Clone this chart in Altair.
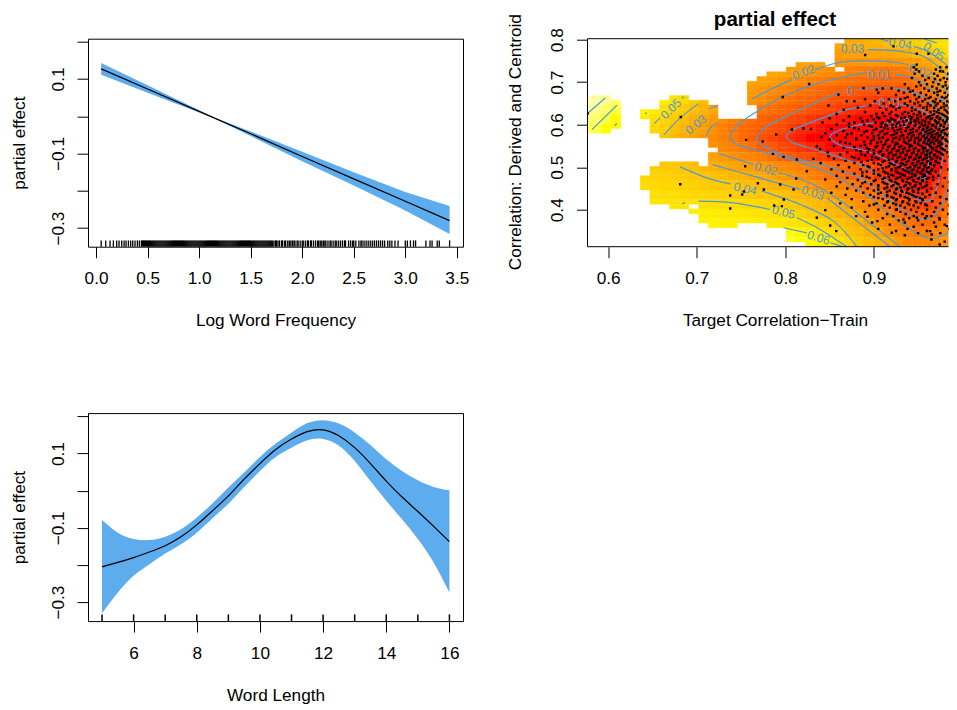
import altair as alt
import pandas as pd

FONT = "Liberation Sans"
BAND = "#5CACEE"
CONT = "#4A9BD8"

# ---------- panel 1 ----------
freq_x = [0.05, 0.5, 1.0, 1.15, 1.5, 2.0, 2.5, 3.0, 3.43]
freq_fit = [0.127, 0.073, 0.013, -0.005, -0.047, -0.108, -0.168, -0.228, -0.280]
freq_hi = [0.143, 0.083, 0.016, -0.004, -0.041, -0.095, -0.150, -0.203, -0.241]
freq_lo = [0.111, 0.063, 0.010, -0.006, -0.053, -0.121, -0.186, -0.253, -0.316]
freq_rug = [.05,.094,.136,.168,.2,.223,.249,.272,.291,.314,.336,.356,.378,.401,.42,.44,
 .45,.46,.47,.48,.49,.5,.51,.52,.53,.54,.55,.56,.57,.58,.59,.6,.61,.62,.63,.64,.65,.66,.67,.68,.69,
 .7,.71,.72,.73,.74,.75,.76,.77,.78,.79,.8,.81,.82,.83,.84,.85,.86,.87,.88,.89,.9,.91,.92,.93,.94,.95,.96,.97,.98,.99,
 1.0,1.01,1.02,1.03,1.04,1.05,1.06,1.07,1.08,1.09,1.1,1.11,1.12,1.13,1.14,1.15,1.16,1.17,1.18,1.19,
 1.2,1.21,1.22,1.23,1.24,1.25,1.26,1.27,1.28,1.29,1.3,1.31,1.32,1.33,1.34,1.35,1.36,1.37,1.38,1.39,
 1.4,1.41,1.42,1.43,1.44,1.45,1.46,1.47,1.48,1.49,1.5,1.51,1.52,1.53,1.54,1.55,1.56,1.57,1.58,1.59,
 1.6,1.61,1.62,1.63,1.64,1.65,1.66,1.67,1.68,1.69,1.70,
 1.71,1.725,1.74,1.75,1.765,1.78,1.8,1.81,1.83,1.84,1.86,1.875,1.89,1.905,1.92,1.93,1.95,1.96,1.98,2.0,2.01,2.03,2.05,2.06,2.08,2.09,
 2.11,2.13,2.15,2.16,2.175,2.19,2.205,2.22,2.23,2.25,2.27,2.28,2.3,2.32,2.33,2.35,2.37,2.39,2.41,2.42,2.45,2.47,2.49,2.5,2.52,2.55,2.57,2.58,
 2.6,2.62,2.64,2.66,2.68,2.7,2.72,2.74,2.76,2.78,2.8,2.83,2.85,2.87,2.9,2.93,3.0,3.02,3.05,3.08,3.1,3.2,3.24,3.26,3.31,3.33,3.43]

# ---------- panel 3 ----------
len_x = [5,5.5,6,6.5,7,7.5,8,8.5,9,9.5,10,10.5,11,11.5,12,12.5,13,13.5,14,14.5,15,15.5,16]
len_fit = [-.205,-.193,-.18,-.165,-.148,-.124,-.092,-.054,-.014,.031,.073,.111,.139,.159,.164,.148,.116,.073,.026,-.017,-.056,-.096,-.137]
len_hi = [-.079,-.113,-.13,-.133,-.124,-.104,-.072,-.034,.009,.049,.091,.127,.157,.182,.19,.181,.157,.123,.085,.053,.028,.01,.001]
len_lo = [-.33,-.274,-.229,-.198,-.169,-.144,-.113,-.074,-.035,.01,.053,.091,.116,.136,.139,.121,.08,.026,-.027,-.077,-.13,-.193,-.274]
len_rug = [5,6,7,8,9,10,11,12,13,14,15,16]

# ---------- panel 2: surface cells (thousandths), row -> (first column, values) ----------
GRID_X0, GRID_DX = 0.5702, 0.01099
GRID_Y0, GRID_DY = 0.8023, 0.01112
surface = {
 0: [(26,[28,29,30,31,33,36,39,41,44,47,50,53,56])],
 1: [(26,[24,25,25,26,27,28,30,31,35,40,44,49,53])],
 2: [(22,[26,25,24,22,21,20,20,20,20,20,21,22,24,27,31,37,43])],
 3: [(19,[27,26,24,23,21,19,17,15,13,12,10,9,9,10,12,17,21,25,29,34])],
 4: [(17,[27,25,23,21,19,16,14,12,10,9,8,6,5,4,3,4,5,9,12,17,22,29])],
 5: [(17,[23,21,18,15,12,9,7,5,3,1,0,-1,-2,-3,-3,-2,0,3,6,12,20,25])],
 6: [(0,[86,82,79,73]),(8,[57,53,48,42,37,33]),
     (17,[20,17,12,9,7,5,3,1,-1,-3,-4,-6,-7,-8,-9,-8,-6,-3,0,5,12,20])],
 7: [(0,[82,78,73,68]),(6,[60,56,52,47,43,38,33,28]),
     (18,[10,7,4,2,0,-2,-4,-6,-8,-10,-11,-12,-13,-13,-13,-12,-11,-7,-1,5,12])],
 8: [(0,[76,73,69,64]),(6,[57,52,47,42,37,31,27,22,17,12,9,6,3,1,-1,-4,-6,-9,-11,-12,-13,-14,-15,-16,-16,-17,-17,-17,-17,-14,-8,0,9])],
 9: [(0,[71,69,65,61]),(7,[48,44,38,33,29,24,18,13,9,6,3,1,-2,-4,-8,-11,-12,-14,-15,-17,-19,-21,-22,-23,-23,-23,-23,-21,-17,-12,-4,6])],
 10: [(8,[40,35,30,26,21,17,13,10,6,2,-2,-5,-8,-11,-13,-15,-17,-20,-22,-23,-24,-25,-26,-26,-26,-25,-24,-20,-16,-8,3])],
 11: [(13,[19,15,13,10,7,1,-1,-4,-6,-9,-11,-13,-15,-17,-19,-20,-22,-23,-24,-25,-25,-24,-21,-16,-8,2])],
 12: [(13,[25,22,19,17,15,12,8,2,0,-2,-4,-7,-9,-11,-13,-15,-17,-19,-20,-22,-23,-24,-22,-17,-10,1])],
 13: [(7,[43,42,41,39,37,34,31,29,27,25,23,21,19,17,15,13,11,9,6,4,2,-1,-4,-7,-11,-16,-18,-20,-20,-16,-9,2])],
 14: [(6,[47,46,45,44,43,41,39,38,36,34,32,30,28,26,23,20,17,14,10,8,5,2,1,-3,-10,-13,-15,-16,-17,-19,-14,-5,6])],
 15: [(6,[49,48,47,46,45,44,43,42,41,40,38,37,35,33,31,29,26,22,18,15,13,11,7,2,-2,-7,-11,-13,-14,-14,-9,-3,9])],
 16: [(7,[51,50,50,49,48,47,46,45,44,43,42,41,40,38,36,34,32,29,25,20,17,14,10,5,-3,-6,-9,-11,-10,-6,0,13])],
 17: [(7,[55,54,54,53,53,52,51,51,50,49,48,47,46,44,42,40,37,35,32,28,23,18,14,11,7,-1,-3,-6,-7,-3,3,16])],
 18: [(11,[58,57,57,56,55,55,54,53,52,51,48,46,43,39,36,33,30,24,18,15,11,6,0,-1,-1,1,8,19])],
 19: [(12,[60,60,59,58,58,58,57,56,55,54,52,50,46,43,39,35,31,25,19,15,12,9,6,6,8,13,24])],
 20: [(21,[63,61,58,54,49,45,39,36,31,26,18,15,13,10,10,12,17,27])],
 21: [(21,[67,65,63,60,57,52,47,40,36,32,28,21,17,15,15,17,21,31])],
}
# filled column spans of each fine row of the surface
spans = [
 [(27,38)],[(26,38)],[(26,38)],[(26,38)],[(26,38)],[(22,24),(26,38)],
 [(21,25),(27,38)],[(19,38)],[(18,38)],[(17,38)],[(17,38)],[(17,38)],
 [(0,2),(9,10),(17,38)],[(0,3),(8,12),(17,38)],[(0,3),(8,13),(18,38)],[(0,3),(6,13),(18,38)],
 [(0,3),(6,13),(18,38)],[(0,3),(7,38)],[(0,3),(7,38)],[(0,2),(7,38)],
 [(8,38)],[(13,38)],[(13,38)],[(14,38)],[(13,38)],[(13,38)],[(8,11),(13,38)],[(7,38)],
 [(7,38)],[(6,38)],[(6,38)],[(6,38)],[(7,38)],[(7,38)],[(7,38)],[(9,10),(12,38)],
 [(11,38)],[(12,38)],[(12,38)],[(13,15),(19,38)],[(21,38)],[(21,38)],[(21,38)],[(23,38)],
]

contours = [
 [(.8996,.6042),(.877,.5964),(.8582,.5847),(.8507,.5729),(.8544,.5612),(.8657,.5494),(.8883,.54),(.9071,.5259),(.9297,.5024),(.9485,.4789),(.9579,.475),(.9617,.5103),(.9598,.5651),(.9542,.5886),(.941,.6058)],
 [(.8921,.6449),(.8695,.6356),(.8318,.6081),(.8093,.5886),(.8017,.5729),(.8093,.5572),(.8394,.5377),(.8883,.5024),(.9297,.4476),(.956,.4202),(.9673,.4319),(.9749,.4868),(.9786,.5729),(.9598,.6277),(.9297,.6473)],
 [(.8638,.6747),(.8507,.6669),(.8093,.6277),(.7791,.5964),(.7679,.5651),(.7791,.5455),(.8017,.5259),(.8469,.5024),(.8883,.4711),(.9259,.4085),(.9485,.381),(.9673,.385),(.9805,.4319),(.9899,.5103),(.9861,.5886),(.9598,.659),(.9297,.6841),(.8996,.6865),(.8827,.6841)],
 [(.8921,.7217),(.8695,.7139),(.8318,.6943),(.798,.6669),(.7716,.6356),(.749,.6042),(.7378,.5729),(.7453,.5533),(.7679,.54),(.813,.5142),(.8507,.4852),(.8883,.4398),(.9259,.3771),(.9598,.3341),(.9824,.3458),(.994,.385)],
 [(.924,.7178),(.9448,.7099),(.9673,.6786),(.9861,.6356),(.994,.6042)],
 [(.7107,.5729),(.7152,.5925),(.7246,.6058)],
 [(.7622,.6606),(.7942,.6943),(.8074,.706)],
 [(.8337,.7295),(.8582,.7452),(.8921,.7507),(.9297,.7452),(.9391,.7389)],
 [(.9654,.7139),(.994,.6551)],
 [(.7246,.5322),(.7641,.5063)],
 [(.7923,.4883),(.8318,.4594),(.8657,.4163),(.8996,.3615),(.9297,.3129)],
 [(.8928,.7765),(.9297,.7726),(.9598,.7569),(.994,.6943)],
 [(.7178,.5063),(.7641,.4789),(.8168,.4476)],
 [(.8469,.428),(.8883,.3615),(.9184,.3129)],
 [(.7133,.6371),(.7235,.645)],
 [(.6632,.5768),(.6813,.616),(.702,.6496)],
 [(.6519,.6027),(.6587,.616)],
 [(.6832,.663),(.6858,.6653)],
 [(.6418,.6262),(.6437,.6277)],
 [(.6813,.5009),(.7114,.475),(.7378,.4609)],
 [(.7735,.4437),(.8168,.4124),(.8544,.3732),(.8808,.3129)],
 [(.9071,.8023),(.9165,.7961)],
 [(.9448,.7843),(.9636,.7687),(.994,.7217)],
 [(.6832,.4147),(.687,.4163)],
 [(.702,.4202),(.7415,.4163),(.7829,.4006)],
 [(.813,.381),(.8394,.3536),(.8695,.3129)],
 [(.9561,.8023),(.9711,.7922)],
 [(.798,.3576),(.8243,.3458)],
 [(.8507,.3223),(.8657,.3129)],
 [(.5767,.6262),(.5966,.663)],
 [(.5816,.5886),(.6098,.6457)],
 [(.6072,.598),(.6098,.6027)],
]
contour_labels = [
 ("0.03",.8759,.7781,0),("0.04",.9297,.7906,10),("0.05",.968,.7726,35),("0.02",.8206,.7233,340),
 ("0.01",.9064,.7162,0),("0.02",.9523,.7256,20),("0",.8732,.6802,0),("\u22120.01",.9146,.6512,0),
 ("\u22120.02",.924,.6042,0),("0.05",.6708,.6371,315),("0.03",.699,.6003,320),("0.02",.778,.4962,15),
 ("0.04",.7547,.4492,12),("0.03",.8311,.4398,18),("0.05",.798,.3944,15),("0.06",.8375,.3341,18),
]

sparse_points = [(.5767,.6262),(.682,.6183),(.7558,.5643),(.7746,.5604),(.6813,.4601),(.7547,.5024),(.769,.4625),(.7532,.4429),(.7513,.4359),(.7378,.4335),(.7378,.4031),(.7758,.4476),(.7972,.6653),(.8269,.6958),(.8902,.764),(.7897,.5768),(.8074,.5886),(.8206,.5909),(.829,.5901),(.8412,.5713),(.8356,.5494),(.8394,.5431),(.786,.5314),(.798,.5243),(.813,.5181),(.8318,.5197),(.8123,.4735),(.8243,.4907),(.8488,.5259),(.8451,.4711),(.7942,.4594),(.8093,.4476),(.7983,.4241),(.7874,.41),(.7961,.4085),(.8451,.3991),(.8507,.363),(.8356,.381),(.8575,.3497),(.8928,.3834),(.904,.3732),(.9259,.4006),(.9203,.3458),(.9744,.3184),(.9636,.3497),(.9654,.3419),(.9824,.3615),(.9485,.381),(.9334,.3771),(.9598,.385),(.9744,.3771),(.9222,.7843),(.9485,.7671),(.9617,.7671),(.9485,.7413),(.9748,.7256),(.9033,.6825),(.8883,.6865),(.8488,.645),(.86,.6708),(.8695,.6551)]
point_rows = {
 .735:[.945,.975,.982],.73:[.948,.970],.725:[.951,.978,.988],.72:[.946,.968,.984],.715:[.955,.972],.71:[.943,.962,.979,.99],
 .705:[.958,.975,.986],.70:[.951,.967,.981],.695:[.935,.96,.973,.988],.69:[.948,.966,.978,.985],.685:[.91,.92,.939,.957,.971,.983],
 .68:[.928,.944,.962,.975,.99],.675:[.905,.934,.953,.968,.98,.987],.67:[.925,.946,.959,.972,.984],.665:[.938,.951,.964,.977,.982,.991],
 .66:[.89,.917,.93,.948,.958,.97,.986],.655:[.878,.901,.924,.941,.955,.967,.975,.983],.65:[.911,.935,.946,.961,.972,.979,.988],
 .645:[.896,.919,.938,.952,.964,.97,.982,.99],.64:[.882,.907,.929,.943,.956,.968,.976,.985],.635:[.866,.914,.925,.947,.96,.973,.98,.987],
 .63:[.89,.92,.935,.951,.964,.971,.983,.991],.625:[.858,.903,.918,.932,.945,.957,.968,.977,.986],.62:[.872,.897,.912,.927,.94,.953,.963,.972,.981,.989],
 .615:[.85,.885,.906,.919,.931,.949,.959,.966,.975,.984],.61:[.866,.893,.916,.924,.937,.946,.955,.969,.978,.987],.605:[.842,.878,.902,.91,.928,.942,.951,.962,.973,.98],
 .60:[.858,.889,.913,.921,.934,.947,.958,.967,.976,.985,.99],.595:[.872,.898,.908,.925,.939,.952,.961,.97,.979,.986],.59:[.852,.883,.903,.916,.93,.944,.956,.965,.974,.982],
 .585:[.866,.892,.91,.923,.936,.948,.96,.968,.977,.988],.58:[.845,.875,.898,.915,.926,.941,.953,.963,.972,.98,.985],.575:[.858,.886,.905,.92,.933,.945,.957,.966,.975,.983],
 .57:[.868,.893,.91,.925,.938,.95,.96,.969,.978,.987],.565:[.85,.88,.9,.916,.929,.942,.953,.963,.972,.981],.56:[.862,.889,.908,.921,.934,.946,.957,.966,.975,.984],
 .555:[.873,.896,.913,.927,.938,.95,.96,.968,.977,.99],.55:[.855,.885,.904,.918,.931,.943,.954,.964,.973,.982],.545:[.866,.892,.91,.923,.935,.947,.958,.967,.976,.986],
 .54:[.88,.9,.915,.928,.94,.951,.961,.97,.98],.535:[.848,.87,.893,.906,.92,.933,.945,.956,.965,.974,.983],.53:[.862,.886,.911,.925,.937,.949,.96,.969,.978],
 .525:[.875,.898,.916,.93,.942,.953,.963,.972,.985],.52:[.855,.883,.905,.921,.935,.947,.957,.966,.975],.515:[.868,.893,.912,.926,.939,.951,.961,.97,.98],
 .51:[.84,.878,.9,.918,.931,.944,.955,.964,.973],.505:[.86,.888,.908,.923,.936,.948,.958,.968],.50:[.872,.895,.914,.928,.941,.952,.962,.976],
 .495:[.852,.885,.905,.92,.933,.945,.956,.966,.984],.49:[.865,.892,.911,.925,.938,.949,.96,.97],.485:[.878,.9,.916,.93,.943,.954,.964],
 .48:[.858,.887,.907,.922,.935,.947,.958,.973],.475:[.87,.895,.912,.927,.94,.951,.962,.98],.47:[.882,.902,.918,.932,.944,.955,.967],
 .465:[.862,.89,.91,.924,.937,.948,.96,.985],.46:[.876,.897,.915,.928,.941,.953,.972],.455:[.858,.885,.905,.92,.934,.946,.958,.978],
 .45:[.87,.893,.912,.926,.939,.951,.965],.445:[.88,.9,.918,.931,.944,.96,.984],.44:[.852,.888,.908,.923,.937,.95,.97],
 .435:[.868,.896,.915,.93,.943,.963],.43:[.9,.92,.935,.948,.958,.975],.425:[.875,.91,.926,.94,.955,.982],.42:[.888,.916,.933,.947,.966],
 .415:[.862,.903,.922,.938,.953,.975],.41:[.895,.912,.93,.945,.96,.985],.405:[.875,.918,.935,.95,.97],.40:[.905,.925,.942,.96,.978],
 .395:[.89,.93,.948,.968],.39:[.915,.936,.955,.984],.385:[.88,.922,.945,.965],.38:[.91,.94,.958,.974],.375:[.928,.95,.99],.37:[.898,.935,.968],
 .365:[.918,.955,.98],.36:[.945,.97],.355:[.905,.938,.985],.35:[.925,.96],.345:[.95,.975],.34:[.935,.99],.33:[.965],.325:[.98],
 .7075:[.969,.983],.6925:[.953,.981],.6775:[.941,.972,.989],.6625:[.935,.962,.98],.6525:[.95,.969,.985],.6425:[.922,.96,.979,.988],.6325:[.943,.968,.982],
 .6275:[.91,.939,.952,.974,.984],.6225:[.925,.949,.966,.979],.6175:[.904,.935,.943,.961,.971,.983],.6125:[.9,.921,.942,.95,.964,.974,.983],
 .6075:[.887,.918,.933,.947,.958,.97,.982],.6025:[.872,.908,.926,.94,.954,.963,.971,.98],.5975:[.895,.915,.93,.946,.956,.966,.975],
 .5925:[.878,.912,.921,.937,.951,.96,.97,.984],.5875:[.9,.927,.941,.955,.963,.973,.979],.5825:[.889,.907,.931,.944,.958,.966,.976],
 .5775:[.87,.912,.923,.939,.951,.961,.97,.981],.5725:[.9,.93,.943,.955,.965,.973],.5675:[.88,.906,.922,.934,.947,.958,.967,.977],
 .5625:[.897,.914,.94,.951,.961,.97,.982],.5575:[.868,.904,.925,.936,.946,.956,.964,.973],.5525:[.89,.911,.924,.941,.951,.962,.975],
 .5475:[.878,.902,.916,.929,.94,.955,.964,.971],.5425:[.895,.921,.933,.945,.956,.966,.978],.5375:[.885,.908,.926,.938,.95,.96,.971],
 .5325:[.9,.917,.93,.943,.954,.963,.976],.5275:[.89,.91,.922,.936,.948,.958,.968],.5225:[.878,.902,.927,.94,.951,.96,.971],
 .5175:[.898,.917,.932,.945,.955,.965],.5125:[.886,.91,.925,.937,.949,.96,.97],.5075:[.905,.92,.933,.943,.953,.964],.5025:[.893,.917,.93,.946,.957,.968],
 .4975:[.91,.925,.938,.95,.96],.4925:[.9,.92,.935,.943,.955,.965],.4875:[.887,.913,.927,.94,.952,.962],.4825:[.905,.92,.933,.946,.957],
 .4775:[.892,.917,.93,.943,.955,.967],.4725:[.91,.925,.938,.95,.96],.4675:[.9,.92,.933,.945,.955],.4625:[.887,.912,.926,.94,.952],
 .4575:[.905,.922,.936,.947,.96],.4525:[.915,.93,.943,.955],.4475:[.905,.925,.938,.95],.4425:[.915,.932,.945,.96],.4375:[.905,.925,.94,.955],
 .4325:[.915,.93,.945],.4275:[.905,.922,.938,.952],.4225:[.925,.94,.955],.4175:[.915,.932,.948],.4125:[.9,.925,.94,.958],
}

# ---------- tables ----------
freq_df = pd.DataFrame({"x": freq_x, "fit": freq_fit, "hi": freq_hi, "lo": freq_lo})
len_df = pd.DataFrame({"x": len_x, "fit": len_fit, "hi": len_hi, "lo": len_lo})

lookup = {}
for r, segs in surface.items():
    for start, vals in segs:
        for i, v in enumerate(vals):
            lookup[(r, start + i)] = v
cells = []
for k, row_spans in enumerate(spans):
    for a, b in row_spans:
        for c in range(a, b + 1):
            v = lookup.get((k // 2, c))
            if v is None:
                continue
            cells.append({"x0": GRID_X0 + c * GRID_DX, "x1": GRID_X0 + (c + 1) * GRID_DX,
                          "y0": GRID_Y0 - k * GRID_DY, "y1": GRID_Y0 - (k + 1) * GRID_DY, "v": v})
cells_df = pd.DataFrame(cells)
cont_df = pd.DataFrame([{"id": i, "o": j, "x": p[0], "y": p[1]} for i, ln in enumerate(contours) for j, p in enumerate(ln)])
lab_df = pd.DataFrame(contour_labels, columns=["t", "x", "y", "a"])
pts = list(sparse_points) + [(x, y) for y, xs in point_rows.items() for x in xs]
pts_df = pd.DataFrame(pts, columns=["x", "y"])

# ---------- panels ----------
W1, H = 375, 208
W2 = 361
FS = 17.2
LY = "datum.value==0.1?'0.1':datum.value==-0.1?'\u22120.1':datum.value==-0.3?'\u22120.3':''"


def yaxis(title, values, expr=None, titleY=H / 2):
    kw = dict(title=title, values=values, titleX=-60, titleY=titleY)
    if expr:
        kw["labelExpr"] = expr
    return alt.Axis(labelAngle=270, labelAlign="center", labelBaseline="bottom", labelPadding=10, **kw)


def xaxis(title, values, fmt=None, titleX=None):
    kw = dict(title=title, values=values, titleY=65)
    if fmt:
        kw["format"] = fmt
    if titleX is not None:
        kw["titleX"] = titleX
    return alt.Axis(labelPadding=12, **kw)


def band_panel(df, xdom, ydom, xax, yax, curve):
    x = alt.X("x:Q", scale=alt.Scale(domain=xdom, nice=False, zero=False), axis=xax)
    y = alt.Y("lo:Q", scale=alt.Scale(domain=ydom, nice=False, zero=False), axis=yax)
    area = alt.Chart(df).mark_area(color=BAND, opacity=1, interpolate=curve).encode(x=x, y=y, y2="hi:Q")
    line = alt.Chart(df).mark_line(color="black", strokeWidth=1.2, interpolate=curve).encode(x=alt.X("x:Q"), y=alt.Y("fit:Q"))
    return area, line


a1, l1 = band_panel(freq_df, [-0.078, 3.56], [-0.35, 0.208],
                    xaxis("Log Word Frequency", [0, .5, 1, 1.5, 2, 2.5, 3, 3.5], ".1f"),
                    yaxis("partial effect", [.2, .1, 0, -.1, -.2, -.3], LY), "linear")
rug1 = alt.Chart(pd.DataFrame({"x": freq_rug})).mark_rule(color="black", strokeWidth=1.3).encode(
    x="x:Q", y=alt.value(H - 6.3), y2=alt.value(H))
p1 = alt.layer(a1, l1, rug1).properties(width=W1, height=H)

a3, l3 = band_panel(len_df, [4.556, 16.43], [-0.351, 0.209],
                    xaxis("Word Length", [6, 8, 10, 12, 14, 16]),
                    yaxis("partial effect", [.2, .1, 0, -.1, -.2, -.3], LY), "natural")
rug3 = alt.Chart(pd.DataFrame({"x": len_rug})).mark_rule(color="black", strokeWidth=1.5).encode(
    x="x:Q", y=alt.value(H - 6.7), y2=alt.value(H))
p3 = alt.layer(a3, l3, rug3).properties(width=W1, height=H)

sx = alt.Scale(domain=[0.5766, 0.9843], nice=False, zero=False)
sy = alt.Scale(domain=[0.3131, 0.8023], nice=False, zero=False)
color_scale = alt.Scale(domain=[-15, 65, 90], range=["#ff0000", "#ffff00", "#ffffd0"], clamp=True)
heat = alt.Chart(cells_df).mark_rect(clip=True, strokeWidth=0.4).encode(
    x=alt.X("x0:Q", scale=sx, axis=alt.Axis(title="Target Correlation\u2212Train", values=[.6, .7, .8, .9], format=".1f",
                                            titleY=65, titleX=187.5, labelPadding=12)),
    x2="x1:Q",
    y=alt.Y("y0:Q", scale=sy, axis=alt.Axis(title="Correlation: Derived and Centroid", values=[.8, .7, .6, .5, .4],
                                            format=".1f", titleX=-62.5, titleY=103, labelAngle=270, labelAlign="center",
                                            labelBaseline="bottom", labelPadding=10)),
    y2="y1:Q",
    color=alt.Color("v:Q", scale=color_scale, legend=None),
    stroke=alt.Stroke("v:Q", scale=color_scale, legend=None),
)
clines = alt.Chart(cont_df).mark_line(color=CONT, strokeWidth=1.2, clip=True, interpolate="cardinal").encode(
    x=alt.X("x:Q", scale=sx), y=alt.Y("y:Q", scale=sy), detail="id:N", order="o:Q")
clabels = alt.Chart(lab_df).mark_text(color=CONT, font=FONT, fontSize=12, clip=True).encode(
    x=alt.X("x:Q", scale=sx), y=alt.Y("y:Q", scale=sy), text="t:N", angle=alt.Angle("a:Q", scale=None))
dots = alt.Chart(pts_df).mark_square(color="black", size=6, opacity=1, clip=True).encode(
    x=alt.X("x:Q", scale=sx), y=alt.Y("y:Q", scale=sy))
one = pd.DataFrame({"a": [0]})
edge_l = alt.Chart(one).mark_rule(color="black", strokeWidth=1).encode(x=alt.value(0), y=alt.value(0), y2=alt.value(H))
edge_t = alt.Chart(one).mark_rule(color="black", strokeWidth=1).encode(x=alt.value(0), x2=alt.value(W2), y=alt.value(0))
edge_b = alt.Chart(one).mark_rule(color="black", strokeWidth=1).encode(x=alt.value(0), x2=alt.value(W2), y=alt.value(H))
title_mark = alt.Chart(pd.DataFrame({"t": ["partial effect"]})).mark_text(
    font=FONT, fontSize=20.6, fontWeight="bold", color="black", baseline="middle"
).encode(text="t:N", x=alt.value(187.5), y=alt.value(-19))
p2 = alt.layer(heat, clines, clabels, dots, edge_l, edge_t, edge_b, title_mark).properties(
    width=W2, height=H, view=alt.ViewBackground(stroke=None),
)

chart = alt.concat(p1, p2, p3, columns=2, bounds="flush", spacing={"row": 166.4, "column": 124.5}).resolve_scale(
    color="independent"
).properties(padding={"left": 1, "top": 1.7, "right": 0, "bottom": 0}).configure_view(
    stroke="black", strokeWidth=1
).configure_axis(
    grid=False, domain=False, tickSize=11, tickColor="black", tickWidth=1, labelColor="black", titleColor="black",
    labelFont=FONT, labelFontSize=FS, titleFont=FONT, titleFontSize=FS, titleFontWeight="normal",
    labelOverlap=False, labelFlush=False,
)

chart.save("out.html", embed_options={"renderer": "svg", "actions": False})
